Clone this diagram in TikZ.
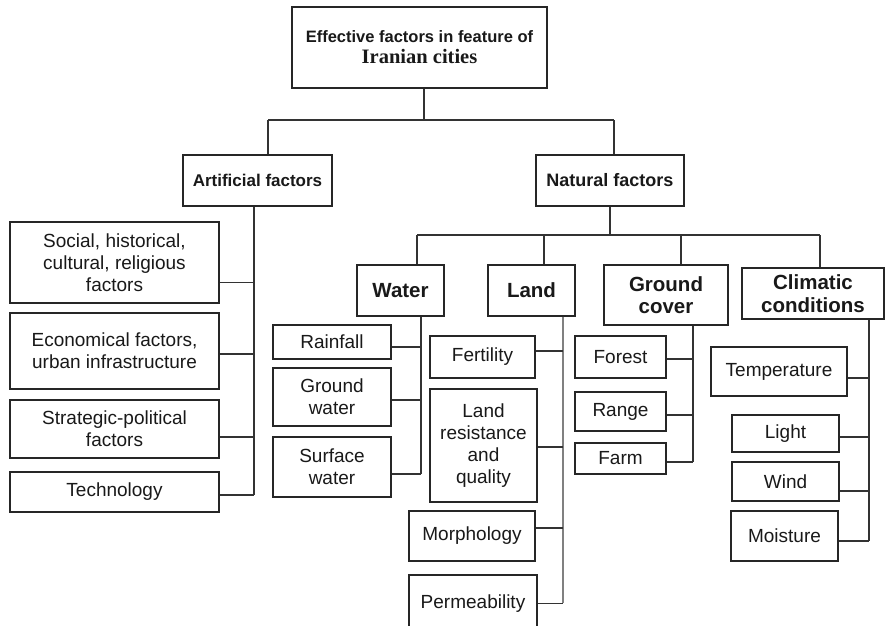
\documentclass[tikz,border=0pt]{standalone}
\usepackage{fontspec}
\setmainfont{Liberation Sans}
\newfontfamily\timesf{Liberation Serif}
\usetikzlibrary{calc}
\tikzset{
  box/.style={draw=black!85, line width=1.2pt, inner sep=0pt, align=center, text=black!90,
    font=\fontsize{19}{22}\selectfont},
  head/.style={box, font=\fontsize{20.5}{22.5}\selectfont\bfseries},
  ln/.style={draw=black!80, line width=1.1pt},
  lng/.style={draw=black!50, line width=1.3pt}
}
\newcommand\linkto[4][ln]{\coordinate (#2c) at ([yshift=#3pt]#2.east); \draw[#1] (#2c) -- (#2c -| #4);}
\begin{document}
\begin{tikzpicture}[x=1pt,y=-1pt]
\useasboundingbox[fill=white] (0,0) rectangle (886,625);
% top
\node[box, minimum width=255, minimum height=81] (top) at (419.5,47.5)
  {{\fontsize{16.5}{25}\selectfont\bfseries Effective factors in feature of}\\[-1pt]
   {\timesf\fontsize{20.5}{25}\selectfont\bfseries Iranian cities}};
\node[box, font=\fontsize{17}{20}\selectfont\bfseries, minimum width=149, minimum height=51] (art) at (257.5,180.5) {Artificial factors};
\node[box, font=\fontsize{18}{20}\selectfont\bfseries, minimum width=148, minimum height=51] (nat) at (610,180.5) {Natural factors};
% artificial children
\node[box, minimum width=209, minimum height=81] (soc) at (114.5,262.5) {Social, historical,\\cultural, religious\\factors};
\node[box, minimum width=209, minimum height=76] (eco) at (114.5,351) {Economical factors,\\urban infrastructure};
\node[box, minimum width=209, minimum height=58] (str) at (114.5,429) {Strategic-political\\factors};
\node[box, minimum width=209, minimum height=40] (tech) at (114.5,492) {Technology};
% natural groups
\node[head, minimum width=87, minimum height=51] (water) at (400.5,290.5) {Water};
\node[head, minimum width=87, minimum height=51] (land) at (531.5,290.5) {Land};
\node[head, minimum width=124, minimum height=60] (gc) at (666,295) {Ground\\cover};
\node[head, minimum width=142, minimum height=51] (clim) at (813,293.5) {Climatic\\conditions};
% water children
\node[box, minimum width=118, minimum height=34] (rain) at (332,342) {Rainfall};
\node[box, minimum width=118, minimum height=58] (gw) at (332,397) {Ground\\water};
\node[box, minimum width=118, minimum height=60] (sw) at (332,467) {Surface\\water};
% land children
\node[box, minimum width=105, minimum height=42] (fert) at (482.5,357) {Fertility};
\node[box, minimum width=107, minimum height=113] (lres) at (483.5,445.5) {Land\\resistance\\and\\quality};
\node[box, minimum width=126, minimum height=50] (morph) at (472,536) {Morphology};
\node[box, minimum width=128, minimum height=57] (perm) at (473,603.5) {Permeability};
% ground cover children
\node[box, minimum width=91, minimum height=42] (forest) at (620.5,357) {Forest};
\node[box, minimum width=91, minimum height=39] (range) at (620.5,411.5) {Range};
\node[box, minimum width=91, minimum height=31] (farm) at (620.5,458.5) {Farm};
% climatic children
\node[box, minimum width=136, minimum height=49] (temp) at (779,371.5) {Temperature};
\node[box, minimum width=107, minimum height=37] (light) at (785.5,433.5) {Light};
\node[box, minimum width=107, minimum height=39] (wind) at (785.5,481.5) {Wind};
\node[box, minimum width=107, minimum height=50] (moist) at (784.5,536) {Moisture};
% top level connectors
\coordinate (tj) at (424,120);
\coordinate (tl) at (268,120);
\coordinate (tr) at (614,120);
\draw[ln] (top.south -| tj) -- (tj);
\draw[ln] (tl) -- (tr);
\draw[ln] (tl) -- (art.north -| tl);
\draw[ln] (tr) -- (nat.north -| tr);
% artificial spine
\coordinate (as) at (254,495);
\draw[ln] (art.south -| as) -- (as);
\linkto{soc}{-20}{as}
\linkto{eco}{-3}{as}
\linkto{str}{-8}{as}
\linkto{tech}{-3}{as}
% natural bar
\coordinate (nj) at (610,235);
\coordinate (nw) at (417,235);
\coordinate (nl) at (544,235);
\coordinate (ng) at (681,235);
\coordinate (nc) at (820,235);
\draw[ln] (nat.south -| nj) -- (nj);
\draw[ln] (nw) -- (nc);
\draw[ln] (nw) -- (water.north -| nw);
\draw[ln] (nl) -- (land.north -| nl);
\draw[ln] (ng) -- (gc.north -| ng);
\draw[ln] (nc) -- (clim.north -| nc);
% water spine
\coordinate (ws) at (421,474);
\draw[ln] (water.south -| ws) -- (ws);
\linkto{rain}{-5}{ws}
\linkto{gw}{-3}{ws}
\linkto{sw}{-7}{ws}
% land spine
\coordinate (ls) at (563,603);
\draw[lng] (land.south -| ls) -- (ls);
\linkto{fert}{6}{ls}
\linkto{lres}{-1.5}{ls}
\linkto{morph}{8}{ls}
\linkto{perm}{0}{ls}
% ground cover spine
\coordinate (gs) at (693,462);
\draw[ln] (gc.south -| gs) -- (gs);
\linkto{forest}{-2}{gs}
\linkto{range}{-3.5}{gs}
\linkto{farm}{-3.5}{gs}
% climatic spine
\coordinate (cs) at (869,541);
\draw[ln] (clim.south -| cs) -- (cs);
\linkto{temp}{-6.5}{cs}
\linkto{light}{-3.5}{cs}
\linkto{wind}{-9.5}{cs}
\linkto{moist}{-5}{cs}
\end{tikzpicture}
\end{document}
